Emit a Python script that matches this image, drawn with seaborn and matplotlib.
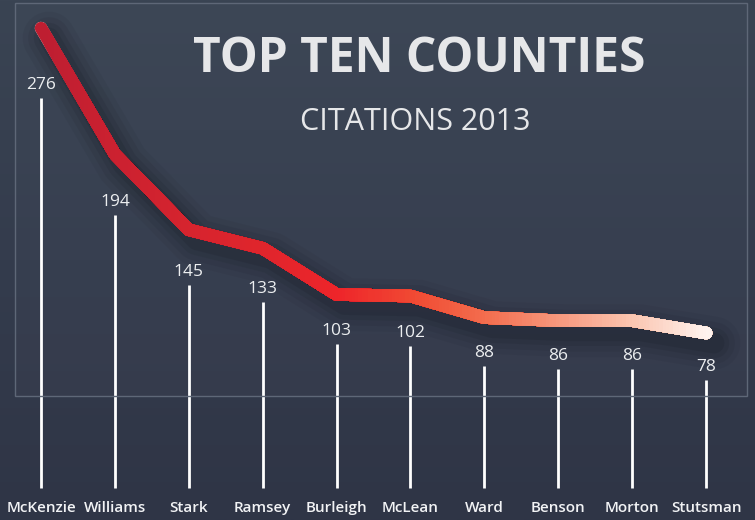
import numpy as np
import matplotlib
matplotlib.use("Agg")
import matplotlib.pyplot as plt
import matplotlib.transforms as mtransforms
from matplotlib.colors import LinearSegmentedColormap
from matplotlib.patches import Rectangle
import seaborn as sns

# Datos del grafico
counties = ["McKenzie", "Williams", "Stark", "Ramsey", "Burleigh",
            "McLean", "Ward", "Benson", "Morton", "Stutsman"]
citations = [276, 194, 145, 133, 103, 102, 88, 86, 86, 78]
title = "TOP TEN COUNTIES"
subtitle = "CITATIONS 2013"

# colores de la linea (de rojo oscuro a casi blanco)
line_colors = ["#bd1a2d", "#cb1d2c", "#d6202a", "#e02128", "#ee2126",
               "#f0462f", "#f36b4b", "#f7977c", "#fbc5b0", "#fff3ee"]

sns.set_theme(style="white")
plt.rcParams["font.family"] = ["Open Sans", "DejaVu Sans"]

W, H = 755, 520
fig = plt.figure(figsize=(W / 100, H / 100), dpi=100)

# fondo con degradado vertical
bg = fig.add_axes([0, 0, 1, 1])
bg_cmap = LinearSegmentedColormap.from_list("bg", ["#3a4453", "#343c4d", "#2f3546"])
bg.imshow(np.linspace(0, 1, 256).reshape(-1, 1), aspect="auto", cmap=bg_cmap,
          extent=[0, 1, 0, 1])
bg.axis("off")

# panel
fig.patches.append(Rectangle((15 / W, 1 - 396 / H), (747 - 15) / W, (396 - 3) / H,
                             transform=fig.transFigure, facecolor="white", alpha=0.02,
                             edgecolor="none", zorder=1))
fig.patches.append(Rectangle((15 / W, 1 - 396 / H), (747 - 15) / W, (396 - 3) / H,
                             transform=fig.transFigure, facecolor="none",
                             edgecolor="#5e6777", lw=1, zorder=1))

df_x = np.arange(len(counties))

ax = fig.add_axes([0, 0, 1, 1])
ax.patch.set_alpha(0)
ax.set_xlim(-0.555, 9.663)
ax.set_ylim(-43.4, 294.2)
ax.axis("off")

# sombra difusa de la linea
shadow_tr = mtransforms.offset_copy(ax.transData, fig=fig, x=8, y=-10, units="dots")
for lw, a in [(38, 0.07), (30, 0.10), (22, 0.13), (15, 0.17)]:
    ax.plot(df_x, citations, color="#131722", lw=lw, alpha=a, transform=shadow_tr,
            solid_capstyle="round", solid_joinstyle="round", zorder=2)

# linea base (queda tapada por el degradado)
sns.lineplot(x=df_x, y=citations, ax=ax, color=line_colors[-1], lw=9,
             solid_capstyle="round", solid_joinstyle="round", zorder=3)

# degradado horizontal: la misma linea recortada por franjas
cmap = LinearSegmentedColormap.from_list(
    "line", list(zip(np.linspace(0, 1, len(line_colors)), line_colors)))
cuts = np.linspace(0, 9, 200)
for k, xc in enumerate(cuts):
    ln, = ax.plot(df_x, citations, color=cmap(xc / 9), lw=9,
                  solid_capstyle="round", solid_joinstyle="round", zorder=4)
    left = -100 if k == 0 else xc
    clip = Rectangle((left, -1000), 1000, 3000, transform=ax.transData)
    ln.set_clip_path(clip)

# etiquetas de valores y lineas verticales
ax2 = ax.twinx()
ax2.set_ylim(-29.5, 335.7)
ax2.axis("off")
ppu = H / (335.7 + 29.5)
gap = 13 / ppu
base = 335.7 - 488 / ppu
vals = np.array(citations)
ax2.vlines(df_x, base, vals - gap, color="white", lw=2, zorder=5)
for x, v in zip(df_x, citations):
    ax2.text(x, v, str(v), ha="center", va="center", fontsize=12.5,
             color="#eceef0", zorder=6)

# nombres de condados
xtr = ax.get_xaxis_transform()
for x, name in zip(df_x, counties):
    ax.text(x, 1 - 508 / H, name, transform=xtr, ha="center", va="center",
            fontsize=11, fontweight="semibold", color="#f2f3f5")

# titulos
fig.text(419 / W, 1 - 59 / H, title, ha="center", va="center", fontsize=34.5,
         fontweight="bold", color="#e6e7e9")
fig.text(415 / W, 1 - 122 / H, subtitle, ha="center", va="center", fontsize=22,
         color="#e6e7e9")

fig.savefig("out.png", dpi=100)
